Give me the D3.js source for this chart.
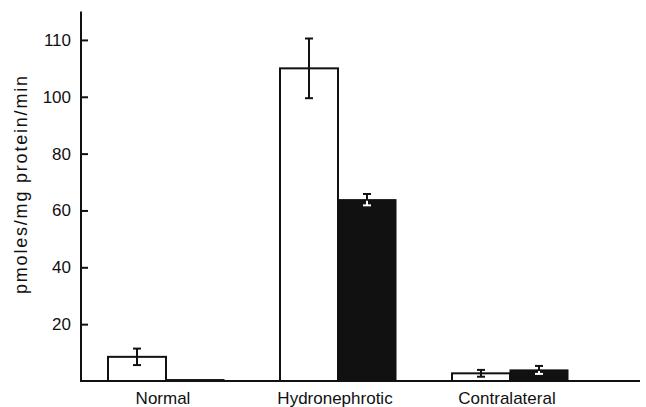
<!DOCTYPE html>
<html>
<head>
<meta charset="utf-8">
<script src="https://cdn.jsdelivr.net/npm/d3@7"></script>
<style>
  html, body { margin: 0; padding: 0; background: #fff; }
  svg { display: block; }
  text { font-family: "Liberation Sans", Arial, Helvetica, sans-serif; fill: #111; }
</style>
</head>
<body>
<svg id="chart" width="646" height="407"></svg>
<script>
// ---- data ----
const categories = ["Normal", "Hydronephrotic", "Contralateral"];
const series = ["open", "filled"];
const openValues = [8.5, 110, 2.7];
const openErrors = [2.9, 10.5, 1.2];
const filledValues = [0.5, 63.8, 3.9];
const filledErrors = [0, 2.0, 1.4];
const tickValues = [20, 40, 60, 80, 100, 120];
const tickLabels = ["20", "40", "60", "80", "100", "110"];
const yLabel = "pmoles/mg protein/min";

// ---- layout ----
const svg = d3.select("#chart");
const axisX = 81, baseY = 381, axisTop = 11.5, axisRight = 640;

const y = d3.scaleLinear().domain([0, 130]).range([baseY, axisTop]);
const x0 = d3.scaleBand().domain(categories).range([80, 596]).padding(0);
const bw = x0.bandwidth();
const x1 = d3.scaleBand().domain(series).range([bw / 2 - 58, bw / 2 + 58]).padding(0);

const rows = categories.map((c, i) => ({
  cat: c,
  bars: [
    { s: "open", v: openValues[i], e: openErrors[i] },
    { s: "filled", v: filledValues[i], e: filledErrors[i] }
  ]
}));

const ink = "#111";

// bars
const g = svg.append("g");
rows.forEach(r => {
  r.bars.forEach(b => {
    const bx = x0(r.cat) + x1(b.s);
    const w = x1.bandwidth();
    if (b.s === "open") {
      g.append("rect")
        .attr("x", bx).attr("y", y(b.v))
        .attr("width", w).attr("height", baseY - y(b.v))
        .attr("fill", "#fff").attr("stroke", ink).attr("stroke-width", 2);
    } else {
      g.append("rect")
        .attr("x", bx).attr("y", y(b.v))
        .attr("width", w).attr("height", Math.max(0, baseY - y(b.v)))
        .attr("fill", ink).attr("stroke", ink).attr("stroke-width", 1);
    }
    if (b.e > 0) {
      const cx = bx + w / 2;
      const top = y(b.v + b.e), bot = y(b.v - b.e), mid = y(b.v);
      const capW = 4;
      if (b.s === "open") {
        g.append("line").attr("x1", cx).attr("x2", cx).attr("y1", top).attr("y2", bot)
          .attr("stroke", ink).attr("stroke-width", 2);
        [top, bot].forEach(yy => g.append("line")
          .attr("x1", cx - capW).attr("x2", cx + capW).attr("y1", yy).attr("y2", yy)
          .attr("stroke", ink).attr("stroke-width", 2));
      } else {
        g.append("line").attr("x1", cx).attr("x2", cx).attr("y1", top).attr("y2", mid)
          .attr("stroke", ink).attr("stroke-width", 2);
        g.append("line").attr("x1", cx - capW).attr("x2", cx + capW).attr("y1", top).attr("y2", top)
          .attr("stroke", ink).attr("stroke-width", 2);
        g.append("line").attr("x1", cx).attr("x2", cx).attr("y1", mid + 1).attr("y2", bot)
          .attr("stroke", "#fff").attr("stroke-width", 2);
        g.append("line").attr("x1", cx - capW).attr("x2", cx + capW).attr("y1", bot).attr("y2", bot)
          .attr("stroke", "#fff").attr("stroke-width", 2);
      }
    }
  });
});

// y axis
const yAxis = d3.axisRight(y)
  .tickValues(tickValues)
  .tickFormat((d, i) => tickLabels[i])
  .tickSize(7)
  .tickPadding(0);
const ya = svg.append("g").attr("transform", `translate(${axisX},0)`).call(yAxis);
ya.select(".domain").remove();
ya.selectAll(".tick line").attr("stroke", ink).attr("stroke-width", 2);
ya.selectAll(".tick text")
  .attr("x", -10).attr("text-anchor", "end")
  .attr("font-size", 17).attr("fill", ink)
  .attr("font-family", "Liberation Sans, Arial, sans-serif");
svg.append("line").attr("x1", axisX).attr("x2", axisX).attr("y1", axisTop).attr("y2", baseY + 1)
  .attr("stroke", ink).attr("stroke-width", 2);

// x axis
const xAxis = d3.axisBottom(x0).tickSize(0).tickPadding(0);
const xa = svg.append("g").attr("transform", `translate(0,${baseY})`).call(xAxis);
xa.select(".domain").remove();
xa.selectAll(".tick text")
  .attr("y", 23).attr("dy", 0).attr("dx", -3)
  .attr("font-size", 17).attr("fill", ink)
  .attr("font-family", "Liberation Sans, Arial, sans-serif");
svg.append("line").attr("x1", axisX - 1).attr("x2", axisRight).attr("y1", baseY).attr("y2", baseY)
  .attr("stroke", ink).attr("stroke-width", 2);

// y label
svg.append("text")
  .attr("transform", `translate(27,185) rotate(-90)`)
  .attr("text-anchor", "middle")
  .attr("font-size", 18)
  .attr("textLength", 218)
  .attr("lengthAdjust", "spacing")
  .text(yLabel);
</script>
</body>
</html>
